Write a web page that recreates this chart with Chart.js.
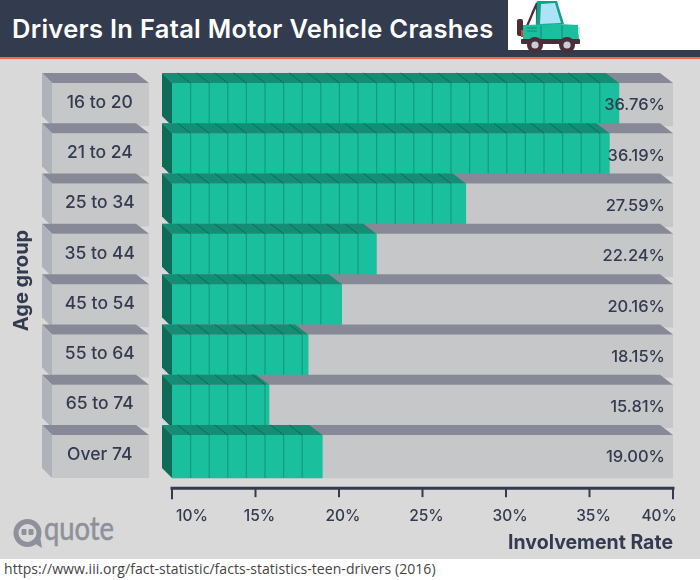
<!DOCTYPE html>
<html>
<head>
<meta charset="utf-8">
<script src="https://cdn.jsdelivr.net/npm/chart.js@4"></script>
<style>
  html, body { margin: 0; padding: 0; background: #fff; }
  #page { position: relative; width: 700px; height: 580px; overflow: hidden; background: #fff; }
  #panel { position: absolute; left: 0; top: 59px; width: 700px; height: 500px; background: #d9d9d9; }
  #header { position: absolute; left: 0; top: 0; width: 700px; height: 57px; background: #333b4f; border-bottom: 2px solid #f26c3d; }
  #title { position: absolute; left: 12px; top: 12px; color: #fff; font: 600 25.5px/34px Inter, sans-serif; letter-spacing: 0.3px; white-space: nowrap; }
  #jeepbox { position: absolute; left: 508px; top: 0; width: 192px; height: 50px; background: #fff; }
  #jeep { position: absolute; left: 508px; top: 0; }
  #logo { position: absolute; left: 12px; top: 516px; }
  #source { position: absolute; left: 4px; top: 560px; color: #444; font: 14px/18px "Open Sans", sans-serif; letter-spacing: 0.05px; white-space: nowrap; }
  #chart { position: absolute; left: 0; top: 0; }
</style>
</head>
<body>
<div id="page">
  <div id="panel"></div>
  <div id="header"></div>
  <div id="title">Drivers In Fatal Motor Vehicle Crashes</div>
  <div id="jeepbox"></div>
  <svg id="jeep" width="80" height="56" viewBox="0 0 80 56">
    <path d="M29 3 L19 26 M29 3 L29 26 M29 3 L24 14" stroke="#4a2f3a" stroke-width="2.2" fill="none"/>
    <rect x="9" y="19" width="6" height="17" rx="2" fill="#4a2f3a"/>
    <rect x="13" y="30" width="4" height="7" fill="#e8392f"/>
    <path d="M29 1 L49 1 L56 24 L28 26 Z" fill="#12a08a"/>
    <path d="M33 4 L47 3 L53 23 L32 24 Z" fill="#aee3f7"/>
    <path d="M15 25 L52 24 L70 25 L71 40 L15 42 Z" fill="#1abf9e"/>
    <rect x="70" y="27" width="2" height="7" fill="#cfe8ef"/>
    <path d="M19 28 H29 M19 31 H29" stroke="#0f8a73" stroke-width="1"/>
    <path d="M33 26 V42 M54 25 V42" stroke="#0f8a73" stroke-width="1"/>
    <rect x="13" y="39" width="59" height="5" rx="1" fill="#4a2f3a"/>
    <circle cx="27" cy="45" r="8" fill="#4a2f3a"/>
    <circle cx="27" cy="45" r="3.6" fill="#c9ced6"/>
    <circle cx="59" cy="45" r="8" fill="#4a2f3a"/>
    <circle cx="59" cy="45" r="3.6" fill="#c9ced6"/>
  </svg>
  <svg id="logo" width="110" height="36" viewBox="0 0 110 36">
    <circle cx="15.5" cy="17" r="11.5" fill="none" stroke="#8e919b" stroke-width="5"/>
    <path d="M19 25 L30 32 L28 20 Z" fill="#8e919b"/>
    <rect x="9.5" y="13" width="5" height="6" rx="1" fill="#8e919b"/>
    <rect x="16.5" y="13" width="5" height="6" rx="1" fill="#8e919b"/>
    <text x="32" y="24" fill="#8e919b" stroke="#8e919b" stroke-width="0.6" font-family="Lato, sans-serif" font-size="33" textLength="70" lengthAdjust="spacingAndGlyphs">quote</text>
  </svg>
  <div id="source">https://www.iii.org/fact-statistic/facts-statistics-teen-drivers (2016)</div>
  <canvas id="chart" width="700" height="580"></canvas>
</div>

<script>
/* data */
var ageGroups = ['16 to 20', '21 to 24', '25 to 34', '35 to 44', '45 to 54', '55 to 64', '65 to 74', 'Over 74'];
var involvementRates = [36.76, 36.19, 27.59, 22.24, 20.16, 18.15, 15.81, 19.00];
var trackEnds = [40, 40, 40, 40, 40, 40, 40, 40];

var NAVY = '#333b4f';
var FONT = 'Inter, sans-serif';

/* one bevelled slab: top face + left side, same offset for all of them */
var DX = 13, DY = 10, DXL = 10;

function topFace(ctx, left, right, y, color) {
  ctx.fillStyle = color;
  ctx.beginPath();
  ctx.moveTo(left - DXL, y - DY);
  ctx.lineTo(right - DX, y - DY);
  ctx.lineTo(right, y);
  ctx.lineTo(left, y);
  ctx.closePath();
  ctx.fill();
}

function sideFace(ctx, left, y, h, color) {
  ctx.fillStyle = color;
  ctx.beginPath();
  ctx.moveTo(left - DXL, y - DY);
  ctx.lineTo(left, y);
  ctx.lineTo(left, y + h);
  ctx.lineTo(left - DXL, y + h - DY);
  ctx.closePath();
  ctx.fill();
}

var slabPlugin = {
  id: 'slabs',
  /* grey boxes behind the category labels */
  beforeDatasetsDraw: function(chart) {
    var ctx = chart.ctx;
    chart.getDatasetMeta(0).data.forEach(function(bar) {
      var y = bar.y - bar.height / 2;
      ctx.fillStyle = '#c6c7c9';
      ctx.fillRect(52, y, 97, bar.height);
      topFace(ctx, 52, 149, y, '#878a96');
      sideFace(ctx, 52, y, bar.height, '#aeb2b9');
    });
  },
  afterDatasetsDraw: function(chart) {
    var ctx = chart.ctx;
    var xs = chart.scales.x;
    var track = chart.getDatasetMeta(0).data;
    var value = chart.getDatasetMeta(1).data;
    var blockW = 18.6;

    track.forEach(function(bar, i) {
      var y = bar.y - bar.height / 2;
      var left = xs.left;
      var end = value[i].x;

      topFace(ctx, left, bar.x, y, '#878a96');
      topFace(ctx, left, end, y, '#158c74');
      sideFace(ctx, left, y, bar.height, '#0d6b58');

      /* block seams */
      for (var x = left + blockW; x < end - 3; x += blockW) {
        ctx.strokeStyle = '#0f9d80';
        ctx.lineWidth = 1.2;
        ctx.beginPath();
        ctx.moveTo(x, y);
        ctx.lineTo(x, y + bar.height);
        ctx.stroke();
        ctx.strokeStyle = '#0d6b58';
        ctx.lineWidth = 1;
        ctx.beginPath();
        ctx.moveTo(x, y);
        ctx.lineTo(x - DX, y - DY);
        ctx.stroke();
      }
    });

    /* value labels */
    ctx.fillStyle = NAVY;
    ctx.font = '500 16.5px ' + FONT;
    ctx.textAlign = 'right';
    ctx.textBaseline = 'middle';
    track.forEach(function(bar, i) {
      ctx.fillText(involvementRates[i].toFixed(2) + '%', bar.x - 8, bar.y + 1);
    });

    /* axis line sits a little below the last row */
    var axisY = xs.top + 6.5;
    ctx.strokeStyle = NAVY;
    ctx.lineWidth = 3;
    ctx.beginPath();
    ctx.moveTo(xs.left - 1.5, axisY);
    ctx.lineTo(xs.right + 1.5, axisY);
    ctx.stroke();
    ctx.lineWidth = 2;
    xs.ticks.forEach(function(t, i) {
      var px = xs.getPixelForValue(t.value);
      var outer = i === 0 || i === xs.ticks.length - 1;
      ctx.beginPath();
      ctx.moveTo(px, axisY);
      ctx.lineTo(px, axisY + (outer ? 11 : 9));
      ctx.stroke();
    });
  }
};

new Chart(document.getElementById('chart'), {
  type: 'bar',
  data: {
    labels: ageGroups,
    datasets: [
      { data: trackEnds, backgroundColor: '#c6c7c9', borderWidth: 0, order: 2 },
      { data: involvementRates, backgroundColor: '#1abf9e', borderWidth: 0, order: 1 }
    ]
  },
  options: {
    indexAxis: 'y',
    responsive: false,
    animation: false,
    layout: { padding: { left: 10, right: 27, top: 79.35, bottom: 25 } },
    datasets: { bar: { grouped: false, barThickness: 43 } },
    plugins: { legend: { display: false }, tooltip: { enabled: false } },
    scales: {
      x: {
        min: 10,
        max: 40,
        grid: { display: false },
        border: { display: false },
        afterFit: function(scale) { scale.height = 73.35; },
        ticks: {
          stepSize: 5,
          autoSkip: false,
          maxRotation: 0,
          align: 'inner',
          labelOffset: 4,
          padding: 17,
          color: NAVY,
          font: { family: FONT, size: 15.5, weight: '500' },
          callback: function(v) { return v + '%'; }
        },
        title: {
          display: true,
          text: 'Involvement Rate',
          align: 'end',
          color: NAVY,
          padding: 0,
          font: { family: FONT, size: 19.5, weight: '700' }
        }
      },
      y: {
        grid: { display: false },
        border: { display: false },
        afterFit: function(scale) { scale.width = 162; },
        ticks: {
          z: 1,
          crossAlign: 'center',
          padding: 29,
          labelOffset: -2,
          color: NAVY,
          font: { family: FONT, size: 17.5, weight: '500' }
        },
        title: {
          display: true,
          text: 'Age group',
          color: NAVY,
          padding: 0,
          font: { family: FONT, size: 20, weight: '700' }
        }
      }
    }
  },
  plugins: [slabPlugin]
});
</script>
</body>
</html>
